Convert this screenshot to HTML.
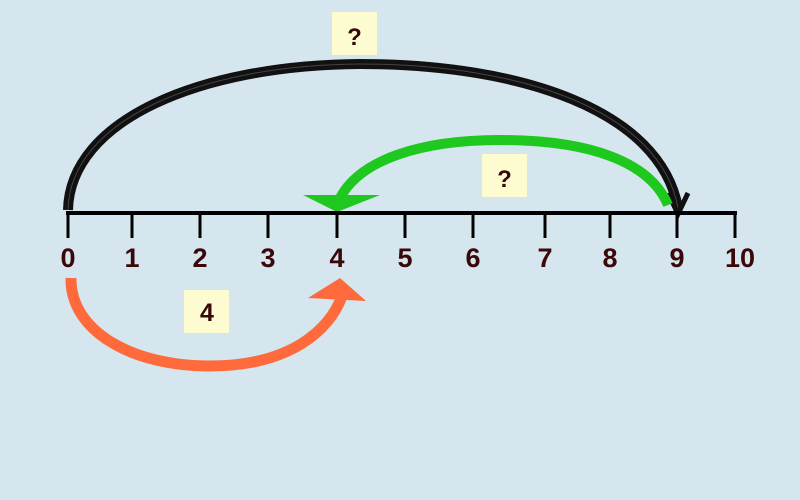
<!DOCTYPE html>
<html><head><style>
body{margin:0;background:#d5e6ee;}
svg{display:block}
text{font-family:"Liberation Sans",sans-serif;font-weight:bold;fill:#3a0808}
</style></head><body>
<svg width="800" height="500" viewBox="0 0 800 500">
<rect width="800" height="500" fill="#d5e6ee"/>
<path d="M68,210 C70,120 200,65 360,64 C520,64 660,110 678,208" fill="none" stroke="#111" stroke-width="10"/>
<path d="M68,210 C70,120 200,65 360,64 C520,64 660,110 678,208" fill="none" stroke="#444" stroke-width="1"/>
<path d="M668,193 L678,214 L688,193" fill="none" stroke="#111" stroke-width="5"/>
<path d="M668,205 C650,162 590,140 500,140 C420,140 360,160 340,198" fill="none" stroke="#1ec81e" stroke-width="10"/>
<polygon points="303,195 380,195 337,212" fill="#1ec81e"/>
<line x1="66" y1="213" x2="737" y2="213" stroke="#000" stroke-width="4"/>
<g stroke="#000" stroke-width="3">
<line x1="68" y1="213" x2="68" y2="238"/><line x1="132" y1="213" x2="132" y2="238"/>
<line x1="200" y1="213" x2="200" y2="238"/><line x1="268" y1="213" x2="268" y2="238"/>
<line x1="337" y1="213" x2="337" y2="238"/><line x1="405" y1="213" x2="405" y2="238"/>
<line x1="473" y1="213" x2="473" y2="238"/><line x1="545" y1="213" x2="545" y2="238"/>
<line x1="610" y1="213" x2="610" y2="238"/><line x1="677" y1="213" x2="677" y2="238"/>
<line x1="735" y1="213" x2="735" y2="238"/>
</g>
<g font-size="27" text-anchor="middle">
<text x="68" y="267">0</text><text x="132" y="267">1</text><text x="200" y="267">2</text>
<text x="268" y="267">3</text><text x="337" y="267">4</text><text x="405" y="267">5</text>
<text x="473" y="267">6</text><text x="545" y="267">7</text><text x="610" y="267">8</text>
<text x="677" y="267">9</text><text x="740" y="267">10</text>
</g>
<path d="M71,278 C70,330 130,366 210,366 C290,366 330,330 342,296" fill="none" stroke="#ff6a3d" stroke-width="11"/>
<polygon points="308,298 340,278 366,301" fill="#ff6a3d"/>
<rect x="332" y="12" width="45" height="43" fill="#fdfcd0"/>
<text x="354.5" y="45" font-size="24" text-anchor="middle">?</text>
<rect x="482" y="154" width="45" height="43" fill="#fdfcd0"/>
<text x="504.5" y="187" font-size="24" text-anchor="middle">?</text>
<rect x="184" y="290" width="45" height="43" fill="#fdfcd0"/>
<text x="207" y="321" font-size="25" text-anchor="middle">4</text>
</svg>
</body></html>
